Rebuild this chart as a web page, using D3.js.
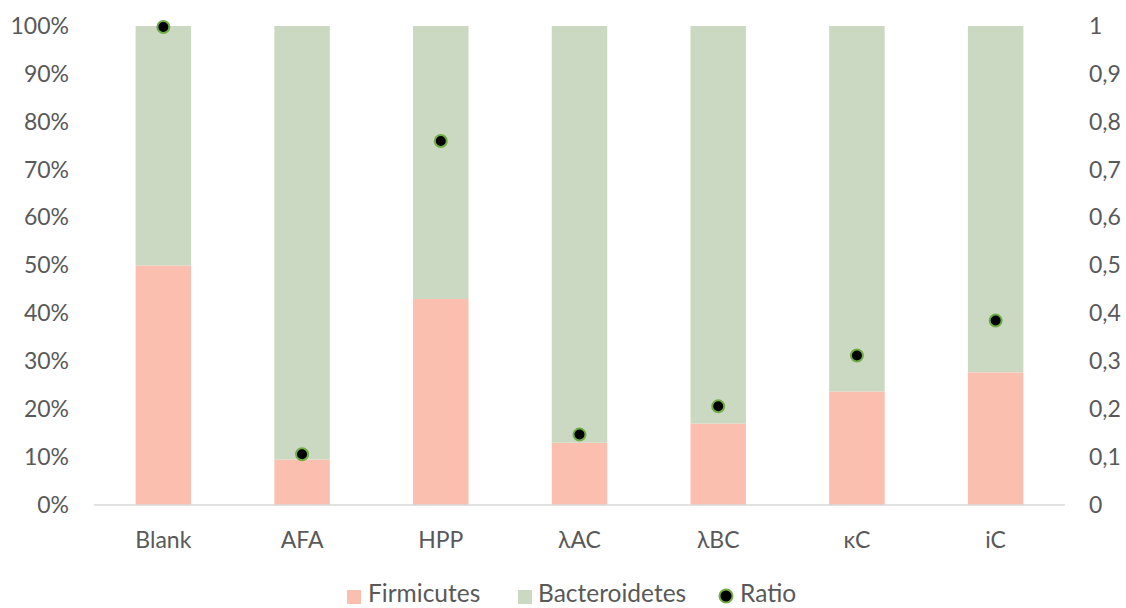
<!DOCTYPE html>
<html><head><meta charset="utf-8">
<script src="https://cdn.jsdelivr.net/npm/d3@7"></script>
<style>body{margin:0;background:#fff}text{font-family:Lato,"Open Sans",sans-serif;fill:#595959}</style>
</head><body><svg id="c" width="1126" height="608"></svg>
<script>
const categories = ["Blank","AFA","HPP","λAC","λBC","κC","iC"];
const firmicutes = [50, 9.5, 43, 13, 17, 23.7, 27.7];
const bacteroidetes = [50, 90.5, 57, 87, 83, 76.3, 72.3];
const ratio = [0.998, 0.106, 0.76, 0.147, 0.206, 0.312, 0.385];
const leftTicks = [0,10,20,30,40,50,60,70,80,90,100];
const rightTicks = [0,0.1,0.2,0.3,0.4,0.5,0.6,0.7,0.8,0.9,1];
const seriesNames = ["Firmicutes","Bacteroidetes","Ratio"];
const colors = {Firmicutes:"#FBBFB0", Bacteroidetes:"#CBD9C2", dot:"#000", dotStroke:"#70AD47"};

const svg = d3.select("#c");
const fs = "23px";
const m = {l:94, r:1065, t:26, b:505};
const x = d3.scaleBand().domain(categories).range([m.l, m.r]).paddingInner(0.6).paddingOuter(0.3);
const yL = d3.scaleLinear().domain([0,100]).range([m.b, m.t]);
const yR = d3.scaleLinear().domain([0,1]).range([m.b, m.t]);

const rows = categories.map((c,i)=>({cat:c, Firmicutes:firmicutes[i], Bacteroidetes:bacteroidetes[i]}));
const stack = d3.stack().keys(["Firmicutes","Bacteroidetes"])(rows);
svg.append("g").selectAll("g").data(stack).join("g").attr("fill", d=>colors[d.key])
  .selectAll("rect").data(d=>d).join("rect")
  .attr("x", d=>x(d.data.cat)).attr("width", x.bandwidth())
  .attr("y", d=>yL(d[1])).attr("height", d=>yL(d[0])-yL(d[1]));

const gx = svg.append("g").attr("transform",`translate(0,${m.b})`)
  .call(d3.axisBottom(x).tickSize(0).tickPadding(27));
gx.select(".domain").attr("stroke","#d9d9d9").attr("stroke-width",1.5).attr("d",`M${m.l},0H${m.r}`);
gx.selectAll("text").style("font-size",fs).attr("fill","#595959").attr("dy","0.71em");

const gl = svg.append("g").attr("transform",`translate(${m.l},0)`)
  .call(d3.axisLeft(yL).tickValues(leftTicks).tickSize(0).tickPadding(25).tickFormat(d=>d+"%"));
gl.select(".domain").remove();
gl.selectAll("text").style("font-size",fs).attr("fill","#595959");

const gr = svg.append("g").attr("transform",`translate(${m.r},0)`)
  .call(d3.axisRight(yR).tickValues(rightTicks).tickSize(0).tickPadding(24).tickFormat(d=>d===0?"0":d===1?"1":String(d).replace(".",",")));
gr.select(".domain").remove();
gr.selectAll("text").style("font-size",fs).attr("fill","#595959");

svg.append("g").selectAll("circle").data(ratio).join("circle")
  .attr("cx",(d,i)=>x(categories[i])+x.bandwidth()/2).attr("cy",d=>yR(d))
  .attr("r",6).attr("fill",colors.dot).attr("stroke",colors.dotStroke).attr("stroke-width",2);

const lg = svg.append("g");
const base = 602;
const items = [{name:seriesNames[0], x:347, tx:368, type:"rect", c:colors.Firmicutes},
               {name:seriesNames[1], x:518, tx:538, type:"rect", c:colors.Bacteroidetes},
               {name:seriesNames[2], x:719, tx:740, type:"circle"}];
items.forEach(it=>{
  if(it.type==="rect") lg.append("rect").attr("x",it.x).attr("y",base-12).attr("width",14).attr("height",14).attr("fill",it.c);
  else lg.append("circle").attr("cx",it.x+7).attr("cy",base-6).attr("r",6.5).attr("fill",colors.dot).attr("stroke",colors.dotStroke).attr("stroke-width",2);
  lg.append("text").attr("x",it.tx).attr("y",base).style("font-size","24.5px").text(it.name);
});
</script></body></html>
